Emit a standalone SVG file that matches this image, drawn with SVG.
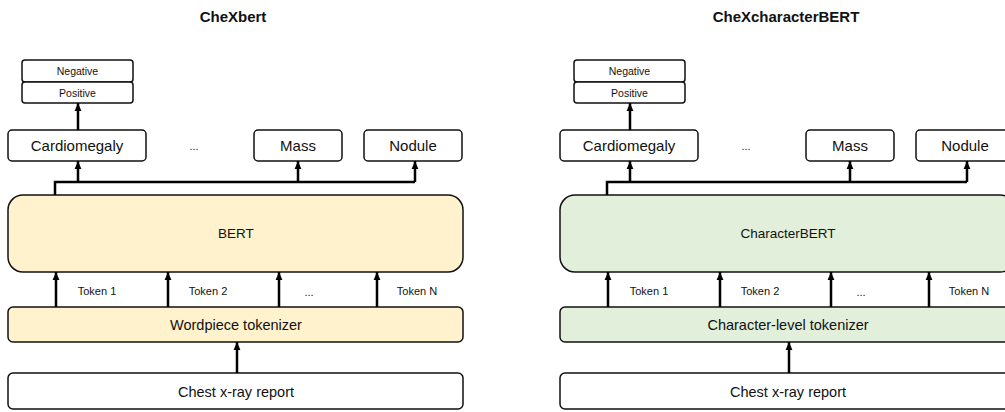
<svg xmlns="http://www.w3.org/2000/svg" width="1005" height="412" viewBox="0 0 1005 412">
<defs>
<marker id="ah" markerUnits="userSpaceOnUse" markerWidth="8" markerHeight="8" viewBox="0 0 8 8" refX="8" refY="4" orient="auto">
<path d="M0,0.6 L8,4 L0,7.4 Z" fill="#000"/>
</marker>
<style>
text{font-family:"Liberation Sans",Arial,sans-serif;fill:#111;text-anchor:middle;dominant-baseline:central}
.box{fill:#fff;stroke:#111;stroke-width:1.5}
.bert{fill:#FFF2CC;stroke:#111;stroke-width:1.5}
.cbert{fill:#E2EFDA;stroke:#111;stroke-width:1.5}
.title{font-weight:bold;font-size:15px}
.s11{font-size:11px}
.s10{font-size:10.5px}
.s15{font-size:15px}
.s14{font-size:14.5px}
.s13{font-size:13.5px}
.arr{stroke:#000;stroke-width:2.5;fill:none;marker-end:url(#ah)}
.bus{stroke:#000;stroke-width:2.5;fill:none}
</style>
</defs>

<text class="title" x="233" y="16">CheXbert</text>
<text class="title" x="786" y="16">CheXcharacterBERT</text>

<!-- Left panel nodes -->
<g id="l-negative"><rect class="box" x="22" y="60" width="111" height="22" rx="3"/><text class="s10" x="77.5" y="71">Negative</text></g>
<g id="l-positive"><rect class="box" x="22" y="82" width="111" height="21" rx="3"/><text class="s10" x="77.5" y="92.5">Positive</text></g>
<g id="l-cardiomegaly"><rect class="box" x="8" y="130" width="138" height="31" rx="4"/><text class="s15" x="77" y="145.5">Cardiomegaly</text></g>
<g id="l-dots"><text class="s10" x="194" y="146">...</text></g>
<g id="l-mass"><rect class="box" x="254" y="130" width="88" height="31" rx="4"/><text class="s15" x="298" y="145.5">Mass</text></g>
<g id="l-nodule"><rect class="box" x="364" y="130" width="98" height="31" rx="4"/><text class="s15" x="413" y="145.5">Nodule</text></g>
<g id="l-bert"><rect class="bert" x="8" y="195" width="455" height="77" rx="15"/><text class="s13" x="236" y="233">BERT</text></g>
<g id="l-tokens">
<text class="s11" x="97" y="291">Token 1</text>
<text class="s11" x="208" y="291">Token 2</text>
<text class="s11" x="309" y="292">...</text>
<text class="s11" x="417" y="291">Token N</text>
</g>
<g id="l-tokenizer"><rect class="bert" x="8" y="307" width="455" height="35" rx="5"/><text class="s14" x="236" y="325">Wordpiece tokenizer</text></g>
<g id="l-report"><rect class="box" x="8" y="373" width="455" height="36" rx="5"/><text class="s14" x="236" y="392">Chest x-ray report</text></g>

<!-- Right panel nodes -->
<g id="r-negative"><rect class="box" x="574" y="60" width="111" height="22" rx="3"/><text class="s10" x="629.5" y="71">Negative</text></g>
<g id="r-positive"><rect class="box" x="574" y="82" width="111" height="21" rx="3"/><text class="s10" x="629.5" y="92.5">Positive</text></g>
<g id="r-cardiomegaly"><rect class="box" x="560" y="130" width="138" height="31" rx="4"/><text class="s15" x="629" y="145.5">Cardiomegaly</text></g>
<g id="r-dots"><text class="s10" x="746" y="146">...</text></g>
<g id="r-mass"><rect class="box" x="806" y="130" width="88" height="31" rx="4"/><text class="s15" x="850" y="145.5">Mass</text></g>
<g id="r-nodule"><rect class="box" x="916" y="130" width="98" height="31" rx="4"/><text class="s15" x="965" y="145.5">Nodule</text></g>
<g id="r-characterbert"><rect class="cbert" x="560" y="195" width="455" height="77" rx="15"/><text class="s13" x="788" y="233">CharacterBERT</text></g>
<g id="r-tokens">
<text class="s11" x="649" y="291">Token 1</text>
<text class="s11" x="760" y="291">Token 2</text>
<text class="s11" x="861" y="292">...</text>
<text class="s11" x="969" y="291">Token N</text>
</g>
<g id="r-tokenizer"><rect class="cbert" x="560" y="307" width="455" height="35" rx="5"/><text class="s14" x="788" y="325">Character-level tokenizer</text></g>
<g id="r-report"><rect class="box" x="560" y="373" width="455" height="36" rx="5"/><text class="s14" x="788" y="392">Chest x-ray report</text></g>

<!-- Connectors -->
<g id="connectors">
<path class="arr" d="M78,130 V103"/>
<path class="bus" d="M55,195 V182 H415"/>
<path class="arr" d="M78,182 V161"/>
<path class="arr" d="M298,182 V161"/>
<path class="arr" d="M415,182 V161"/>
<path class="arr" d="M56,307 V272"/>
<path class="arr" d="M168,307 V272"/>
<path class="arr" d="M279,307 V272"/>
<path class="arr" d="M377,307 V272"/>
<path class="arr" d="M237,373 V342"/>

<path class="arr" d="M630,130 V103"/>
<path class="bus" d="M607,195 V182 H967"/>
<path class="arr" d="M630,182 V161"/>
<path class="arr" d="M850,182 V161"/>
<path class="arr" d="M967,182 V161"/>
<path class="arr" d="M608,307 V272"/>
<path class="arr" d="M720,307 V272"/>
<path class="arr" d="M831,307 V272"/>
<path class="arr" d="M929,307 V272"/>
<path class="arr" d="M789,373 V342"/>
</g>
</svg>
